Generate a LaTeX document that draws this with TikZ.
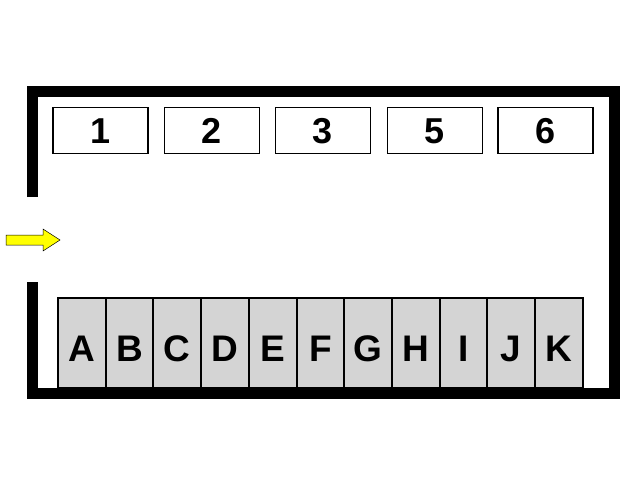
\documentclass[tikz,border=0pt]{standalone}
\usepackage{fontspec}
\setmainfont{Liberation Sans}
\definecolor{bayfill}{RGB}{212,212,212}
\definecolor{arrowyellow}{RGB}{255,255,0}
\begin{document}
\begin{tikzpicture}[x=1pt,y=-1pt,
  wall/.style={line width=11pt},
  topbox/.style={draw, line width=1.6pt, fill=white, minimum width=95pt, minimum height=46pt, inner sep=0pt, text height=26pt, text depth=0pt, font=\fontsize{36}{36}\selectfont\bfseries},
  baybox/.style={draw, line width=2pt, fill=bayfill, minimum width=47.7pt, minimum height=90pt, inner sep=0pt, text height=36pt, text depth=0pt, font=\fontsize{37}{37}\selectfont\bfseries}]
\useasboundingbox (0,0) rectangle (640,480);
% walls
\draw[wall] (32.5,197) -- (32.5,91.5) -- (614.5,91.5) -- (614.5,393) -- (32.5,393) -- (32.5,282);
% top boxes
\node[topbox] (b1) at (100.5,130.5) {1};
\node[topbox] (b2) at (212,130.5) {2};
\node[topbox] (b3) at (323,130.5) {3};
\node[topbox] (b5) at (435,130.5) {5};
\node[topbox] (b6) at (545.5,130.5) {6};
% bays
\foreach \l [count=\i from 0] in {A,B,C,D,E,F,G,H,I,J,K}{
  \node[baybox] (bay\l) at ({58+47.7*\i+23.85},343) {\l};
}
% entry arrow
\draw[fill=arrowyellow, line width=0.5pt] (6,235) -- (43,235) -- (43,229) -- (60,240) -- (43,251) -- (43,245) -- (6,245) -- cycle;
\end{tikzpicture}
\end{document}
